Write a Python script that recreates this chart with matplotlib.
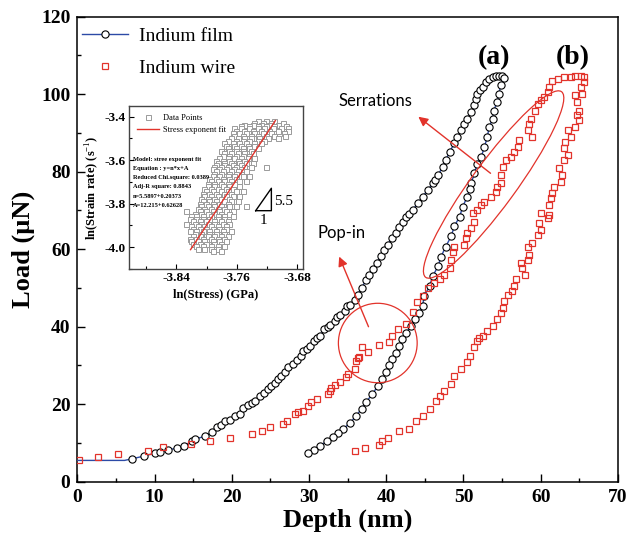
import matplotlib
matplotlib.use('Agg')
import matplotlib.pyplot as plt
from matplotlib.lines import Line2D
from matplotlib.patches import Ellipse
from matplotlib.transforms import ScaledTranslation
from matplotlib.ticker import MultipleLocator

plt.rcParams['font.family'] = ['Liberation Serif', 'DejaVu Serif']
plt.rcParams['axes.unicode_minus'] = False
plt.rcParams['mathtext.fontset'] = 'custom'
plt.rcParams['mathtext.rm'] = 'Liberation Serif'
plt.rcParams['mathtext.bf'] = 'Liberation Serif:bold'

# ---------------- data: Indium film (loading then unloading) ----------------
film_depth = [0.0, 6.1,
              7.06, 8.57, 10.07, 10.7, 11.7, 12.96, 13.86, 14.8, 15.2, 16.5, 17.4, 18.04, 18.6, 19.1,
              19.8, 20.4, 21.0, 21.5, 22.1, 22.6, 23.0, 23.6, 24.2, 24.7, 25.1, 25.6, 26.0, 26.4,
              26.9, 27.3, 27.9, 28.4, 28.9, 29.2, 29.7, 30.1, 30.7, 31.0, 31.4, 32.0, 32.4, 32.7,
              33.3, 33.6, 34.0, 34.6, 34.9, 35.3, 35.9, 36.3, 36.8, 37.4, 37.8, 38.3, 38.8, 39.3,
              39.7, 40.2, 40.7, 41.2, 41.7, 42.2, 42.6, 43.0, 43.4, 44.1, 44.7, 45.4, 46.0, 46.3,
              46.7, 47.3, 47.7, 48.2, 48.8, 49.2, 49.7, 50.1, 50.5, 51.0, 51.4, 51.6, 51.8, 52.2,
              52.5, 52.9, 53.3, 53.8, 54.2, 54.6, 55.0, 55.3,
              54.8, 54.6, 54.4, 53.9, 53.8, 53.3, 53.1, 52.7, 52.3, 51.8, 51.4, 51.0, 50.8, 50.5,
              49.9, 49.5, 48.8, 48.4, 47.7, 47.1, 46.7, 46.0, 45.6, 44.9, 44.7, 44.3, 43.7, 43.2,
              42.6, 42.1, 41.7, 41.2, 40.8, 40.4, 40.0, 39.5, 38.9, 38.2, 37.4, 36.8, 36.1, 35.3,
              34.4, 33.8, 33.1, 32.3, 31.4, 30.6, 29.9]
film_load = [5.5, 5.5,
             5.9, 6.6, 7.4, 7.6, 8.2, 8.7, 9.3, 10.4, 11.0, 11.7, 12.8, 14.2, 14.6, 15.6,
             16.0, 17.0, 17.6, 19.0, 19.9, 20.3, 20.9, 22.0, 22.8, 23.9, 24.7, 25.5, 26.5, 27.3,
             28.4, 29.5, 30.3, 31.4, 32.4, 33.7, 34.3, 35.0, 36.3, 37.0, 37.6, 39.3, 39.9, 40.4,
             41.4, 42.6, 42.9, 44.0, 45.3, 45.6, 47.0, 48.3, 50.0, 52.0, 53.4, 54.8, 56.5, 58.2,
             59.9, 61.2, 62.8, 64.3, 65.8, 67.0, 68.4, 69.2, 70.1, 71.9, 73.6, 75.3, 77.0, 77.8,
             79.1, 81.3, 83.0, 85.1, 87.3, 89.0, 90.7, 92.4, 93.7, 95.4, 97.1, 98.8, 100.1, 101.0,
             101.8, 103.2, 104.0, 104.4, 104.6, 104.8, 104.8, 104.3,
             102.3, 100.1, 98.0, 95.8, 93.7, 91.5, 89.0, 86.4, 83.8, 82.1, 79.6, 77.0, 75.5, 73.6,
             71.0, 68.4, 65.9, 63.3, 60.7, 58.1, 55.6, 53.0, 50.4, 47.9, 45.3, 43.5, 42.0, 40.3,
             38.3, 36.8, 35.0, 33.2, 31.6, 30.0, 28.3, 26.5, 24.7, 22.6, 20.6, 18.8, 17.0, 15.2,
             13.6, 12.5, 11.6, 10.4, 9.3, 8.3, 7.5]

# ---------------- data: Indium wire ----------------
wire_depth = [0.17, 2.67, 5.25, 9.1, 11.07, 14.7, 17.2, 19.8, 22.55, 23.85, 24.9, 26.6, 27.1, 28.2,
              28.6, 29.2, 29.9, 30.3, 31.0, 32.5, 32.7, 32.9, 33.3, 34.0, 34.8, 35.0, 35.9, 36.1,
              36.3, 36.5, 36.9, 37.6, 39.0, 40.4, 40.7, 41.5, 42.6, 43.4, 44.0, 44.7, 45.4, 46.2,
              46.9, 47.5, 48.2, 48.4, 48.6, 48.8, 50.1, 50.3, 50.5, 51.0, 51.4, 51.2, 51.8, 52.3,
              52.7, 53.6, 54.2, 54.4, 54.8, 54.8, 55.1, 55.5, 56.1, 56.6, 57.0, 57.2, 58.9, 58.3,
              58.5, 58.7, 59.2, 59.6, 60.0, 60.4, 60.9, 61.1, 61.5, 62.2, 63.0, 63.9, 64.5, 65.2,
              65.6,
              65.6, 65.2, 65.4, 64.5, 64.7, 65.0, 64.7, 65.0, 64.5, 63.5, 63.9, 63.2, 63.0, 63.5,
              63.0, 62.4, 62.8, 62.6, 61.7, 61.5, 61.3, 61.1, 60.0, 61.1, 60.9, 59.8, 60.0, 59.6,
              58.9, 58.3, 58.5, 58.3, 57.4, 57.6, 57.9, 56.8, 56.6, 56.3, 55.7, 55.3, 55.1, 54.8,
              54.4, 53.8, 53.1, 52.5, 52.0, 51.8, 51.4, 50.8, 50.5, 49.7, 48.8, 48.4, 47.5, 46.9,
              46.5, 45.6, 44.7, 43.9, 43.0, 41.7, 40.2, 39.5, 39.1, 37.3, 36.0]
wire_load = [5.5, 6.3, 7.2, 8.0, 8.9, 9.8, 10.5, 11.4, 12.2, 13.0, 14.0, 14.9, 15.8, 17.5,
             17.9, 18.3, 19.6, 20.5, 21.3, 22.6, 23.5, 24.3, 24.9, 25.8, 26.9, 27.7, 29.0, 31.2,
             32.0, 32.1, 34.7, 33.4, 35.2, 36.0, 37.5, 39.3, 40.6, 43.7, 46.5, 47.9, 50.0, 51.3,
             52.2, 53.4, 55.2, 57.3, 59.4, 60.7, 61.2, 62.9, 64.2, 65.4, 67.1, 69.3, 70.1, 71.4,
             72.3, 73.6, 74.8, 76.1, 77.0, 79.1, 81.3, 83.0, 83.8, 85.1, 86.4, 88.1, 89.0, 90.7,
             92.4, 93.7, 95.8, 97.6, 98.4, 99.3, 100.5, 101.8, 103.5, 104.0, 104.4, 104.4, 104.6, 104.6,
             104.4,
             103.1, 101.8, 100.1, 99.7, 98.0, 95.8, 94.6, 93.3, 91.5, 90.7, 89.0, 87.7, 86.0, 84.3,
             83.0, 80.9, 79.1, 77.4, 76.1, 74.4, 73.2, 71.4, 69.3, 68.9, 68.0, 66.7, 65.0, 63.7,
             61.6, 60.7, 58.6, 57.3, 56.4, 55.2, 53.4, 52.2, 50.4, 49.2, 48.3, 46.6, 44.9, 43.6,
             41.9, 40.2, 38.9, 37.6, 37.2, 36.2, 34.7, 32.4, 30.8, 29.0, 27.2, 25.2, 23.4, 22.1,
             20.8, 18.8, 17.0, 15.7, 13.6, 13.1, 11.3, 10.5, 9.5, 8.7, 8.0]

# ---------------- inset data: ln(stress) vs ln(strain rate) ----------------
rate_rows = [-3.421, -3.429, -3.437, -3.445, -3.452, -3.464, -3.475, -3.487, -3.498, -3.510,
             -3.521, -3.533, -3.544, -3.556, -3.567, -3.579, -3.590, -3.602, -3.613, -3.623,
             -3.633, -3.642, -3.651, -3.663, -3.674, -3.686, -3.697, -3.709, -3.720, -3.732,
             -3.743, -3.755, -3.766, -3.778, -3.789, -3.801, -3.812, -3.824, -3.835, -3.847,
             -3.858, -3.870, -3.881, -3.893, -3.904, -3.916, -3.927, -3.939, -3.950, -3.962,
             -3.973, -3.985, -3.996, -4.008, -4.019]
stress_rows = [
    [-3.7321, -3.7211, -3.7101],
    [-3.7366, -3.7255, -3.7145, -3.6990],
    [-3.7498, -3.7388, -3.7277, -3.7167, -3.7056],
    [-3.7542, -3.7432, -3.7321, -3.7211, -3.7101, -3.6946],
    [-3.7630, -3.7542, -3.7432, -3.7321, -3.7233, -3.7123, -3.7012, -3.6924],
    [-3.7608, -3.7498, -3.7388, -3.7277, -3.7167, -3.7056, -3.6920],
    [-3.7652, -3.7564, -3.7476, -3.7366, -3.7255, -3.7145, -3.6968],
    [-3.7630, -3.7520, -3.7410, -3.7321, -3.7211, -3.7101, -3.6960],
    [-3.7675, -3.7586, -3.7498, -3.7410, -3.7299, -3.7189, -3.7056],
    [-3.7719, -3.7608, -3.7520, -3.7432, -3.7321, -3.7233],
    [-3.7763, -3.7652, -3.7564, -3.7476, -3.7366, -3.7277],
    [-3.7741, -3.7630, -3.7542, -3.7454, -3.7366],
    [-3.7719, -3.7608, -3.7520, -3.7432, -3.7321],
    [-3.7807, -3.7697, -3.7608, -3.7520, -3.7410],
    [-3.7763, -3.7675, -3.7586, -3.7498, -3.7388],
    [-3.7785, -3.7697, -3.7608, -3.7520, -3.7432],
    [-3.7829, -3.7719, -3.7630, -3.7542, -3.7454, -3.7366],
    [-3.7873, -3.7785, -3.7697, -3.7586, -3.7498],
    [-3.7851, -3.7763, -3.7675, -3.7564, -3.7476, -3.7388],
    [-3.7873, -3.7763, -3.7652, -3.7542],
    [-3.7895, -3.7807, -3.7719, -3.7608, -3.7498, -3.7410, -3.7211],
    [-3.7917, -3.7829, -3.7741, -3.7630, -3.7542],
    [-3.7873, -3.7785, -3.7675, -3.7586, -3.7476],
    [-3.7895, -3.7807, -3.7697, -3.7608],
    [-3.7917, -3.7829, -3.7719, -3.7630, -3.7520, -3.7432],
    [-3.7962, -3.7873, -3.7785, -3.7697, -3.7608],
    [-3.7940, -3.7851, -3.7763, -3.7675, -3.7564, -3.7476],
    [-3.7984, -3.7895, -3.7807, -3.7719, -3.7630],
    [-3.7984, -3.7895, -3.7785, -3.7697, -3.7564],
    [-3.8028, -3.7940, -3.7851, -3.7741, -3.7652],
    [-3.8006, -3.7917, -3.7807, -3.7719, -3.7608, -3.7520],
    [-3.8050, -3.7962, -3.7873, -3.7763, -3.7675],
    [-3.8028, -3.7940, -3.7851, -3.7741, -3.7652, -3.7564],
    [-3.8072, -3.7984, -3.7895, -3.7807, -3.7697],
    [-3.8050, -3.7962, -3.7873, -3.7763, -3.7675, -3.7586],
    [-3.8094, -3.8006, -3.7917, -3.7829, -3.7719],
    [-3.8072, -3.7984, -3.7895, -3.7807, -3.7697, -3.7608, -3.7476],
    [-3.8116, -3.8028, -3.7940, -3.7851, -3.7763],
    [-3.8270, -3.8094, -3.8006, -3.7917, -3.7829, -3.7741, -3.7652],
    [-3.8160, -3.8072, -3.7984, -3.7895, -3.7807, -3.7697],
    [-3.8204, -3.8138, -3.8050, -3.7940, -3.7851, -3.7763, -3.7652],
    [-3.8226, -3.8138, -3.8050, -3.7962, -3.7851, -3.7763],
    [-3.8182, -3.8094, -3.8006, -3.7895, -3.7807, -3.7719],
    [-3.8270, -3.8160, -3.8072, -3.7984, -3.7895, -3.7785, -3.7697],
    [-3.8204, -3.8116, -3.8028, -3.7940, -3.7851, -3.7741],
    [-3.8182, -3.8094, -3.8006, -3.7917, -3.7829, -3.7741],
    [-3.8226, -3.8138, -3.8050, -3.7962, -3.7873, -3.7785, -3.7675],
    [-3.8160, -3.8072, -3.7962, -3.7873, -3.7763],
    [-3.8182, -3.8094, -3.7984, -3.7895, -3.7807, -3.7719],
    [-3.8226, -3.8138, -3.8050, -3.7940, -3.7851, -3.7763],
    [-3.8204, -3.8116, -3.8028, -3.7917, -3.7829, -3.7741],
    [-3.8182, -3.8094, -3.8006, -3.7895, -3.7807],
    [-3.8138, -3.8050, -3.7940, -3.7851, -3.7763],
    [-3.8116, -3.8028, -3.7940, -3.7851],
    [-3.7917, -3.7807],
]
fit_stress = [-3.8213, -3.7087]
fit_rate = [-4.011, -3.418]
fit_lines = ["Model: stree exponent fit", "Equation : y=n*x+A", "Reduced Chi.square: 0.0389",
             "Adj-R square: 0.8843", "n=5.5897+0.20373", "A=12.215+0.62628"]

RED = '#e2332b'
BLUE = '#2c4aa6'

fig = plt.figure(figsize=(6.28, 5.45), dpi=100)
ax = fig.add_axes([0.1232, 0.1161, 0.8608, 0.8532])

ax.plot(film_depth, film_load, color=BLUE, lw=1.0, marker='o', markersize=5.2,
        mfc='white', mec='black', mew=0.8, markevery=slice(2, None), zorder=3)
ax.plot(wire_depth, wire_load, ls='none', marker='s', markersize=4.2,
        mfc='none', mec=RED, mew=0.9, zorder=4)

ax.set_xlim(0, 70)
ax.set_ylim(0, 120)
ax.xaxis.set_major_locator(MultipleLocator(10))
ax.xaxis.set_minor_locator(MultipleLocator(5))
ax.yaxis.set_major_locator(MultipleLocator(20))
ax.yaxis.set_minor_locator(MultipleLocator(10))
ax.tick_params(which='both', direction='in', top=False, right=False, width=1.0)
ax.tick_params(which='major', length=6, labelsize=14, pad=5)
ax.tick_params(which='minor', length=3)
for lab in ax.get_xticklabels() + ax.get_yticklabels():
    lab.set_fontweight('bold')
for s in ax.spines.values():
    s.set_linewidth(1.1)
ax.set_xlabel('Depth (nm)', fontsize=19, fontweight='bold', labelpad=2)
ax.set_ylabel('Load (µN)', fontsize=19, fontweight='bold', labelpad=4)

handles = [Line2D([], [], color=BLUE, lw=1.0, marker='o', markersize=5.2, mfc='white',
                  mec='black', mew=0.8),
           Line2D([], [], ls='none', marker='s', markersize=4.2, mfc='none', mec=RED, mew=0.9)]
ax.legend(handles, ['Indium film', 'Indium wire'], loc='upper left', frameon=False,
          fontsize=14, handlelength=2.4, handletextpad=0.55, labelspacing=0.75,
          borderaxespad=0.0, borderpad=0.0, bbox_to_anchor=(0.008, 0.978))

# annotations
ax.text(53.9, 109.5, '(a)', fontsize=20, fontweight='bold', ha='center', va='center')
ax.text(64.2, 109.5, '(b)', fontsize=20, fontweight='bold', ha='center', va='center')
ax.text(38.6, 98.3, 'Serrations', fontsize=12, family='Lato', ha='center', va='center')
ax.text(34.2, 64.2, 'Pop-in', fontsize=12, family='Lato', ha='center', va='center')
arrow = dict(arrowstyle='-|>', color=RED, lw=1.0, mutation_scale=14, shrinkA=0, shrinkB=0)
ax.annotate('', xy=(44.15, 94.2), xytext=(53.5, 79.6), arrowprops=arrow, zorder=5)
ax.annotate('', xy=(33.9, 58.1), xytext=(37.7, 40.0), arrowprops=arrow, zorder=5)
ax.add_patch(Ellipse((38.9, 35.8), 10.2, 20.5, fill=False, ec=RED, lw=0.9, zorder=5))
ell_tr = fig.dpi_scale_trans + ScaledTranslation(53.9, 76.7, ax.transData)
ax.add_patch(Ellipse((0, 0), 2.30, 0.44, angle=53.8, fill=False, ec=RED, lw=0.9,
                     transform=ell_tr, zorder=5))

# ---------------- inset ----------------
axi = fig.add_axes([0.2054, 0.5064, 0.2771, 0.2991])
ins_x = [x for row in stress_rows for x in row]
ins_y = [y for y, row in zip(rate_rows, stress_rows) for _ in row]
axi.plot(ins_x, ins_y, ls='none', marker='s', markersize=3.6, mfc='white', mec='#9a9a9a',
         mew=0.7, label='Data Points')
axi.plot(fit_stress, fit_rate, color=RED, lw=1.0, label='Stress exponent fit')
axi.set_xlim(-3.903, -3.672)
axi.set_ylim(-4.10, -3.351)
axi.set_xticks([-3.84, -3.76, -3.68])
axi.set_xticklabels(['-3.84', '-3.76', '-3.68'])
axi.xaxis.set_minor_locator(MultipleLocator(0.04))
axi.set_yticks([-4.0, -3.8, -3.6, -3.4])
axi.set_yticklabels(['-4.0', '-3.8', '-3.6', '-3.4'])
axi.yaxis.set_minor_locator(MultipleLocator(0.1))
axi.tick_params(which='both', direction='in', width=0.8)
axi.tick_params(which='major', length=3.5, labelsize=9.5, pad=2.5)
axi.tick_params(which='minor', length=2)
for lab in axi.get_xticklabels() + axi.get_yticklabels():
    lab.set_fontweight('bold')
for s in axi.spines.values():
    s.set_linewidth(1.0)
    s.set_color('#444444')
axi.set_xlabel('ln(Stress) (GPa)', fontsize=9, fontweight='bold', labelpad=3)
axi.set_ylabel('ln(Strain rate) (s$^{-1}$)', fontsize=9, fontweight='bold', labelpad=2)
axi.legend(loc='upper left', frameon=False, fontsize=6, handlelength=2.6, handletextpad=0.5,
           labelspacing=0.4, borderaxespad=0.2, bbox_to_anchor=(0.02, 0.98))
for i, t in enumerate(fit_lines):
    axi.text(0.023, 0.673 - i * 0.0564, t, transform=axi.transAxes, fontsize=4.6,
             fontweight='bold', va='center', ha='left')
# slope triangle
axi.plot([-3.7348, -3.7140, -3.7140, -3.7348], [-3.832, -3.832, -3.729, -3.832],
         color='black', lw=1.0)
axi.text(-3.7106, -3.790, '5.5', fontsize=11, ha='left', va='center')
axi.text(-3.724, -3.878, '1', fontsize=11, ha='center', va='center')

fig.savefig('out.png', dpi=100)
